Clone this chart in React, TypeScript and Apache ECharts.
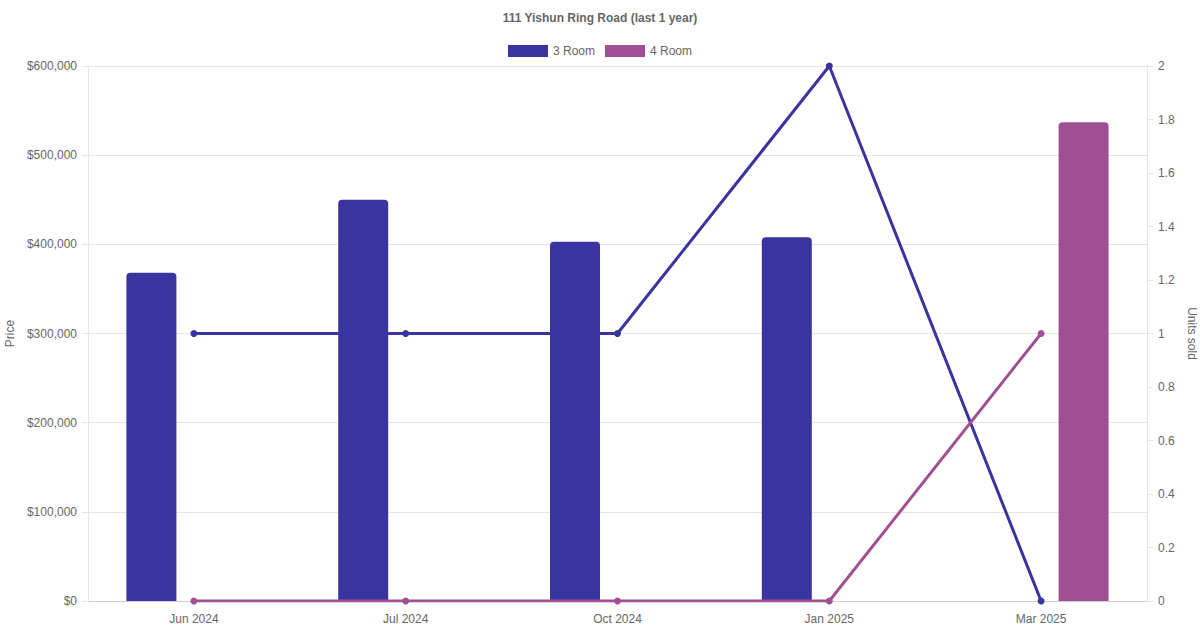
import React, { useEffect, useRef } from "react";
import * as echarts from "echarts";

const title = "111 Yishun Ring Road (last 1 year)";
const categories = ["Jun 2024", "Jul 2024", "Oct 2024", "Jan 2025", "Mar 2025"];
const seriesNames = ["3 Room", "4 Room"];
const price3Room: (number | null)[] = [368000, 450000, 403000, 408000, null];
const price4Room: (number | null)[] = [null, null, null, null, 537000];
const units3Room = [1, 1, 1, 2, 0];
const units4Room = [0, 0, 0, 0, 1];
const colors = ["#39349f", "#a05092"];

const FONT = "'Liberation Sans', Arial, Helvetica, sans-serif";
const TEXT = "#666666";

export default function App() {
  const ref = useRef<HTMLDivElement>(null);
  useEffect(() => {
    document.body.style.margin = "0";
    if (!ref.current) return;
    const chart = echarts.init(ref.current, undefined, { renderer: "svg" });
    const fmtMoney = (v: number) => "$" + v.toLocaleString("en-US");
    chart.setOption({
      animation: false,
      textStyle: { fontFamily: FONT, color: TEXT },
      title: {
        text: title,
        left: "center",
        top: 7,
        textStyle: { fontFamily: FONT, fontSize: 12, fontWeight: "bold", color: TEXT },
      },
      legend: {
        top: 40,
        left: "center",
        itemWidth: 40,
        itemHeight: 12,
        itemGap: 10,
        textStyle: { fontFamily: FONT, fontSize: 12, color: TEXT },
        data: seriesNames.map((n, i) => ({ name: n, icon: "rect", itemStyle: { color: colors[i] } })),
      },
      grid: { left: 88, right: 53, top: 66, bottom: 29, containLabel: false, outerBoundsMode: "none" },
      xAxis: {
        type: "category",
        data: categories,
        boundaryGap: true,
        axisTick: { show: false },
        axisLine: { lineStyle: { color: "#cccccc" } },
        axisLabel: { color: TEXT, fontSize: 12, fontFamily: FONT, margin: 12 },
        splitLine: { show: false },
      },
      yAxis: [
        {
          type: "value",
          min: 0,
          max: 600000,
          interval: 100000,
          name: "Price",
          nameLocation: "middle",
          nameGap: 72,
          nameTextStyle: { color: TEXT, fontSize: 12, fontFamily: FONT },
          axisLine: { show: true, lineStyle: { color: "#e5e5e5" } },
          axisTick: { show: true, length: 6, lineStyle: { color: "#e5e5e5" } },
          axisLabel: { color: TEXT, fontSize: 12, fontFamily: FONT, formatter: fmtMoney, margin: 11 },
          splitLine: { show: true, lineStyle: { color: "#e5e5e5" } },
        },
        {
          type: "value",
          min: 0,
          max: 2,
          interval: 0.2,
          position: "right",
          name: "Units sold",
          nameLocation: "middle",
          nameGap: 38,
          nameRotate: -90,
          nameTextStyle: { color: TEXT, fontSize: 12, fontFamily: FONT },
          axisLine: { show: true, lineStyle: { color: "#e5e5e5" } },
          axisTick: { show: true, length: 6, lineStyle: { color: "#e5e5e5" } },
          axisLabel: {
            color: TEXT,
            fontSize: 12,
            fontFamily: FONT,
            margin: 11,
            formatter: (v: number) => String(+v.toFixed(1)),
          },
          splitLine: { show: false },
        },
      ],
      series: [
        {
          name: seriesNames[0],
          type: "bar",
          yAxisIndex: 0,
          data: price3Room,
          barWidth: 50,
          barGap: "70%",
          itemStyle: { color: colors[0], borderRadius: [4, 4, 0, 0] },
          z: 2,
        },
        {
          name: seriesNames[1],
          type: "bar",
          yAxisIndex: 0,
          data: price4Room,
          barWidth: 50,
          barGap: "70%",
          itemStyle: { color: colors[1], borderRadius: [4, 4, 0, 0] },
          z: 2,
        },
        {
          name: seriesNames[0],
          type: "line",
          yAxisIndex: 1,
          data: units3Room,
          symbol: "circle",
          symbolSize: 7,
          lineStyle: { color: colors[0], width: 3 },
          itemStyle: { color: colors[0] },
          z: 3,
        },
        {
          name: seriesNames[1],
          type: "line",
          yAxisIndex: 1,
          data: units4Room,
          symbol: "circle",
          symbolSize: 7,
          lineStyle: { color: colors[1], width: 3 },
          itemStyle: { color: colors[1] },
          z: 3,
        },
      ],
    });
    return () => chart.dispose();
  }, []);
  return <div ref={ref} style={{ width: 1200, height: 630 }} />;
}
